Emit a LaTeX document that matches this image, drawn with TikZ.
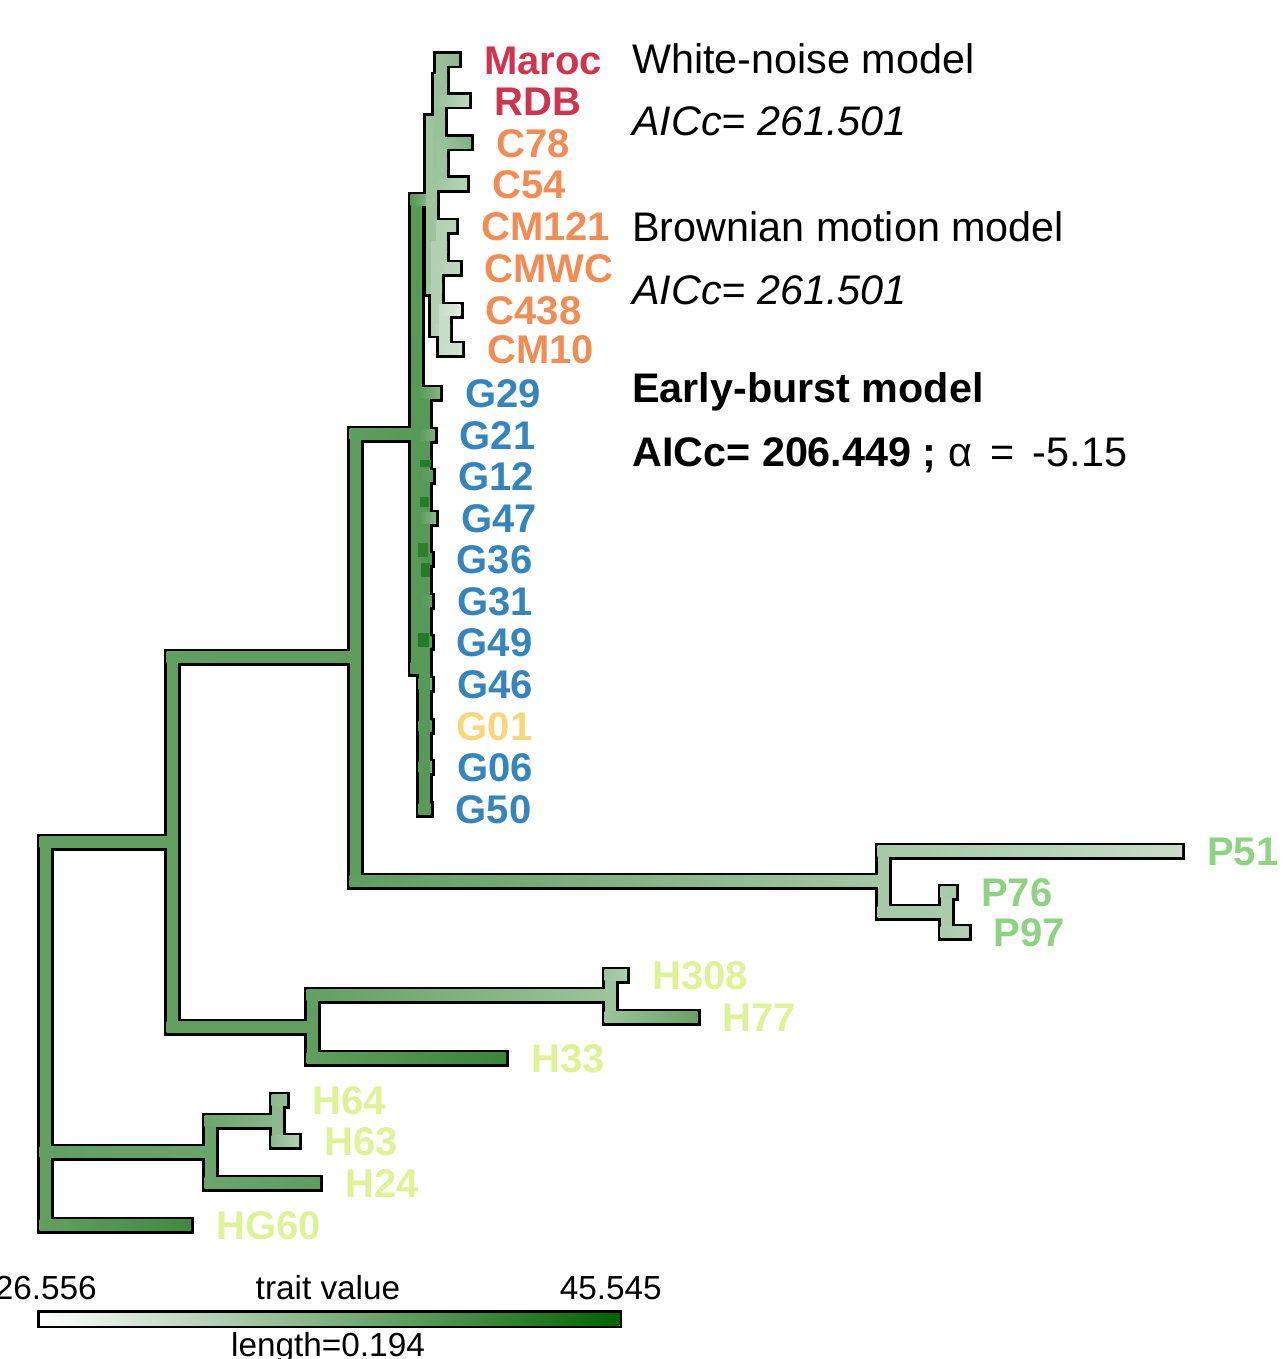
\documentclass[tikz,border=0pt]{standalone}
\usepackage{fontspec}
\setmainfont{Liberation Sans}
\usetikzlibrary{calc}
\definecolor{dg}{RGB}{0,100,0}
\definecolor{cred}{RGB}{208,52,76}
\definecolor{corange}{RGB}{242,140,82}
\definecolor{cblue}{RGB}{52,132,190}
\definecolor{cyellow}{RGB}{250,214,122}
\definecolor{cpgreen}{RGB}{140,212,130}
\definecolor{chgreen}{RGB}{222,242,150}
\tikzset{
  outerbr/.style={line width=12.75pt, line cap=rect, line join=miter, draw=black},
  tiplab/.style={anchor=base west, inner sep=0pt, font=\fontsize{30}{36}\selectfont\bfseries},
  modeltxt/.style={anchor=base west, inner sep=0pt, font=\fontsize{31}{37}\selectfont},
  legtxt/.style={inner sep=0pt, font=\fontsize{25}{30}\selectfont},
}
\newcommand\blackedge[4]{\draw[outerbr] (#1) |- (#2);}
\newcommand\greenedge[4]{%
  \fill[dg!#3!white] ($(#1)+(-5.5,0)$) rectangle ($(#1|-#2)+(5.5,0)$);
  \shade[left color=dg!#3!white, right color=dg!#4!white] ($(#1|-#2)+(-5.5,-5.5)$) rectangle ($(#2)+(5.5,5.5)$);
}
\newcommand\edgelist{%
\treeedge{R}{A}{62}{62}
\treeedge{R}{Bn}{62}{58}
\treeedge{R}{tHG60}{62}{75}
\treeedge{A}{D}{62}{63}
\treeedge{A}{E}{62}{62}
\treeedge{D}{P}{63}{35}
\treeedge{D}{F}{63}{66}
\treeedge{F}{Cn}{66}{38}
\treeedge{F}{Gn}{66}{66}
\treeedge{Cn}{U}{38}{40}
\treeedge{Cn}{L}{38}{30}
\treeedge{U}{U1}{40}{40}
\treeedge{U}{U2}{40}{38}
\treeedge{U1}{tMaroc}{40}{45}
\treeedge{U1}{tRDB}{40}{25}
\treeedge{U2}{tC78}{38}{50}
\treeedge{U2}{tC54}{38}{28}
\treeedge{L}{L1}{30}{30}
\treeedge{L}{L2}{30}{22}
\treeedge{L1}{tCM121}{30}{28}
\treeedge{L1}{tCMWC}{30}{25}
\treeedge{L2}{tC438}{22}{12}
\treeedge{L2}{tCM10}{22}{18}
\treeedge{Gn}{tG29}{66}{48}
\treeedge{Gn}{tG21}{66}{50}
\treeedge{Gn}{tG12}{66}{62}
\treeedge{Gn}{tG47}{66}{45}
\treeedge{Gn}{tG36}{66}{70}
\treeedge{Gn}{tG31}{66}{62}
\treeedge{Gn}{tG49}{66}{66}
\treeedge{Gn}{tG46}{66}{50}
\treeedge{Gn}{tG01}{66}{62}
\treeedge{Gn}{tG06}{66}{50}
\treeedge{Gn}{tG50}{66}{65}
\treeedge{P}{tP51}{35}{22}
\treeedge{P}{Q}{35}{33}
\treeedge{Q}{tP76}{33}{35}
\treeedge{Q}{tP97}{33}{30}
\treeedge{E}{Hn}{62}{38}
\treeedge{E}{tH33}{62}{78}
\treeedge{Hn}{tH308}{38}{32}
\treeedge{Hn}{tH77}{38}{60}
\treeedge{Bn}{B2}{58}{45}
\treeedge{Bn}{tH24}{58}{63}
\treeedge{B2}{tH64}{45}{42}
\treeedge{B2}{tH63}{45}{30}
}
\newcommand\tiplabel[3]{\node[tiplab, text=#3] (lab#1) at ($(t#1)+(30.5,14.3)$) {#2};}
\begin{document}
\begin{tikzpicture}[x=0.75pt, y=-0.75pt]
\useasboundingbox (0,0) rectangle (1283,1359);
% internal nodes
\coordinate (R) at (45,1015);
\coordinate (A) at (172,842);
\coordinate (Bn) at (210,1152);
\coordinate (B2) at (277,1121);
\coordinate (D) at (355,657);
\coordinate (E) at (312,1027);
\coordinate (Hn) at (610,995);
\coordinate (F) at (416,434);
\coordinate (P) at (883,881);
\coordinate (Q) at (946,912);
\coordinate (Cn) at (431.5,200);
\coordinate (U) at (439.5,122);
\coordinate (U1) at (441.5,80.5);
\coordinate (U2) at (441.5,163.5);
\coordinate (L) at (436.5,288);
\coordinate (L1) at (441.5,247);
\coordinate (L2) at (444.5,329.5);
\coordinate (Gn) at (424,668);
% tips (branch ends)
\coordinate (tMaroc) at (453.5,60);
\coordinate (tRDB) at (463.5,101);
\coordinate (tC78) at (465.5,143);
\coordinate (tC54) at (461.5,184);
\coordinate (tCM121) at (450.5,226);
\coordinate (tCMWC) at (454,268);
\coordinate (tC438) at (455,310);
\coordinate (tCM10) at (456.5,349);
\coordinate (tG29) at (434.5,393);
\coordinate (tG21) at (429,435);
\coordinate (tG12) at (427.5,476);
\coordinate (tG47) at (430.5,518);
\coordinate (tG36) at (426,559);
\coordinate (tG31) at (426.5,601);
\coordinate (tG49) at (426,642);
\coordinate (tG46) at (426.5,684);
\coordinate (tG01) at (426,726);
\coordinate (tG06) at (426.5,767);
\coordinate (tG50) at (425,809);
\coordinate (tP51) at (1176.5,851);
\coordinate (tP76) at (950.5,892);
\coordinate (tP97) at (963,932);
\coordinate (tH308) at (621.5,975);
\coordinate (tH77) at (692,1017);
\coordinate (tH33) at (500.5,1058);
\coordinate (tH64) at (281.5,1100);
\coordinate (tH63) at (293.5,1141);
\coordinate (tH24) at (314.5,1183);
\coordinate (tHG60) at (185.5,1225);
% black outline layer
\let\treeedge\blackedge
\edgelist
% coloured layer
\let\treeedge\greenedge
\edgelist
% darker patches in the G clade
\fill[dg!85!white] (420,460) rectangle (431,467);
\fill[dg!85!white] (420,497) rectangle (429,507);
\fill[dg!82!white] (418,543) rectangle (428,557);
\fill[dg!85!white] (421,563) rectangle (430,577);
\fill[dg!85!white] (418,633) rectangle (429,647);
% tip labels
\tiplabel{Maroc}{Maroc}{cred}
\tiplabel{RDB}{RDB}{cred}
\tiplabel{C78}{C78}{corange}
\tiplabel{C54}{C54}{corange}
\tiplabel{CM121}{CM121}{corange}
\tiplabel{CMWC}{CMWC}{corange}
\tiplabel{C438}{C438}{corange}
\tiplabel{CM10}{CM10}{corange}
\tiplabel{G29}{G29}{cblue}
\tiplabel{G21}{G21}{cblue}
\tiplabel{G12}{G12}{cblue}
\tiplabel{G47}{G47}{cblue}
\tiplabel{G36}{G36}{cblue}
\tiplabel{G31}{G31}{cblue}
\tiplabel{G49}{G49}{cblue}
\tiplabel{G46}{G46}{cblue}
\tiplabel{G01}{G01}{cyellow}
\tiplabel{G06}{G06}{cblue}
\tiplabel{G50}{G50}{cblue}
\tiplabel{P51}{P51}{cpgreen}
\tiplabel{P76}{P76}{cpgreen}
\tiplabel{P97}{P97}{cpgreen}
\tiplabel{H308}{H308}{chgreen}
\tiplabel{H77}{H77}{chgreen}
\tiplabel{H33}{H33}{chgreen}
\tiplabel{H64}{H64}{chgreen}
\tiplabel{H63}{H63}{chgreen}
\tiplabel{H24}{H24}{chgreen}
\tiplabel{HG60}{HG60}{chgreen}
% model text
\node[modeltxt] (wn) at (632,74) {White-noise model};
\node[modeltxt] (wna) at (632,136) {\itshape AICc= 261.501};
\node[modeltxt] (bm) at (632,241) {Brownian motion model};
\node[modeltxt] (bma) at (632,304) {\itshape AICc= 261.501};
\node[modeltxt] (eb) at (632,402) {\bfseries Early-burst model};
\node[modeltxt] (eba) at (632,466) {\bfseries AICc= 206.449 ;\mdseries{} α \,=\, -5.15};
% legend
\shade[left color=white, right color=dg] (39.5,1312.5) rectangle (619.5,1325.5);
\draw[line width=1.875pt] (38.25,1311.25) rectangle (620.75,1326.75);
\node[legtxt, anchor=base east] (lmin) at (97,1299) {26.556};
\node[legtxt, anchor=base] (ltitle) at (328,1299) {trait value};
\node[legtxt, anchor=base east] (lmax) at (662,1299) {45.545};
\node[legtxt, anchor=base] (llen) at (328,1356) {length=0.194};
\end{tikzpicture}
\end{document}
